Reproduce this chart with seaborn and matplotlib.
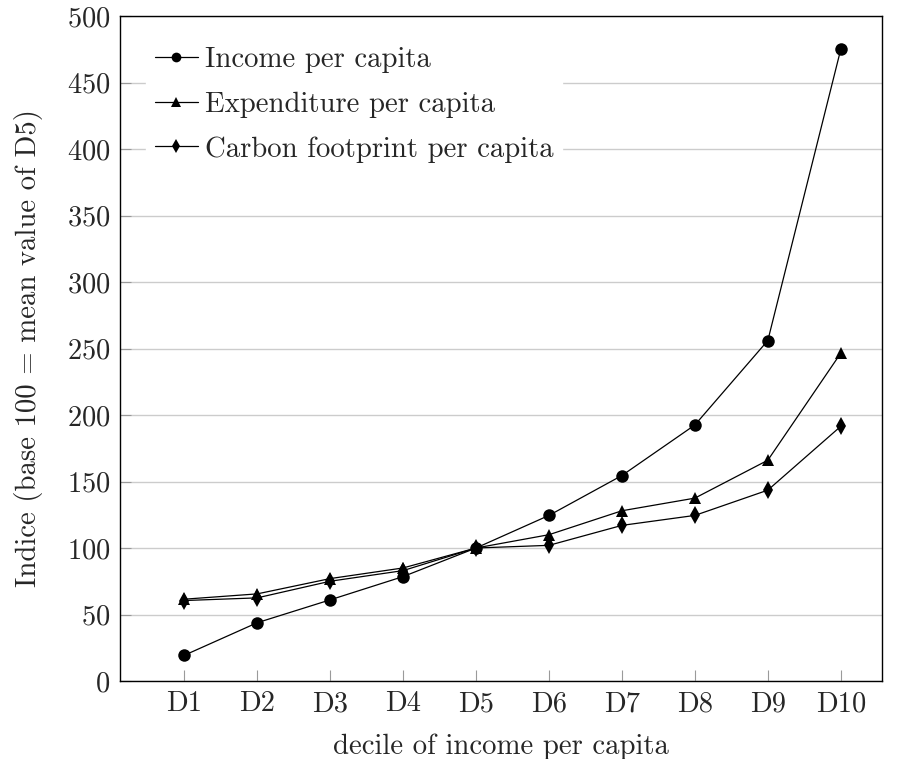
import numpy as np
import matplotlib
matplotlib.use("Agg")
import matplotlib.pyplot as plt
import seaborn as sns
import pandas as pd

sns.set_theme(style="white")
plt.rcParams['font.family'] = ['cmr10', 'DejaVu Serif']
plt.rcParams['axes.unicode_minus'] = False
plt.rcParams['axes.formatter.use_mathtext'] = True

deciles = ["D1", "D2", "D3", "D4", "D5", "D6", "D7", "D8", "D9", "D10"]
income = [19.3, 43.8, 61, 78.5, 100, 124.5, 154.5, 192.5, 256, 475]
expenditure = [61.5, 65.5, 77, 85, 100, 110, 128, 137.5, 166, 246.5]
carbon = [60.5, 62.5, 75, 83, 100, 102, 117, 124.5, 143.5, 191.5]
series = ["Income per capita", "Expenditure per capita", "Carbon footprint per capita"]

dfs = []
for name, vals in zip(series, [income, expenditure, carbon]):
	dfs.append(pd.DataFrame({"decile": deciles, "pos": np.arange(len(deciles)), "value": vals, "series": name}))
df = pd.concat(dfs, ignore_index=True)

fs_tick = 20.5
fs_lab = 20.7
fig = plt.figure(figsize=(8.98, 7.59), dpi=100)
ax = fig.add_axes([120/898, 78/759, 762/898, 665/759])

sns.lineplot(data=df, x="pos", y="value", hue="series", style="series",
	palette=["black"]*3, markers={series[0]: "o", series[1]: "^", series[2]: "d"},
	dashes=False, markersize=9, linewidth=0.9, markeredgewidth=0, ax=ax, sort=False)

ax.set(xlim=(-0.88, 9.565), ylim=(0, 500), xticks=np.arange(len(deciles)),
	yticks=np.arange(0, 501, 50))
ax.set_xticklabels(deciles)
ax.set_xlabel("decile of income per capita", fontsize=fs_lab, labelpad=12)
ax.set_ylabel("Indice (base 100 = mean value of D5)", fontsize=fs_lab, labelpad=17)
ax.tick_params(axis="both", direction="in", length=8, width=0.8, color="#9a9a9a",
	labelsize=fs_tick, pad=7)
ax.tick_params(axis="x", top=False, bottom=True)
ax.tick_params(axis="y", left=True, right=False)
ax.grid(True, axis="y", color="#cccccc", linewidth=1)
ax.set_axisbelow(True)
for s in ax.spines.values():
	s.set_color("black")
	s.set_linewidth(1)

leg = ax.legend(loc="upper left", bbox_to_anchor=(0.023, 0.98), fontsize=fs_lab, frameon=True,
	handlelength=1.5, handletextpad=0.25, labelspacing=0.64, borderaxespad=0.3,
	fancybox=False, framealpha=1, borderpad=0.3)
leg.get_frame().set_edgecolor("white")
leg.get_frame().set_facecolor("white")
for h in leg.legend_handles:
	h.set_markersize(7)

fig.savefig("out.png", dpi=100)
